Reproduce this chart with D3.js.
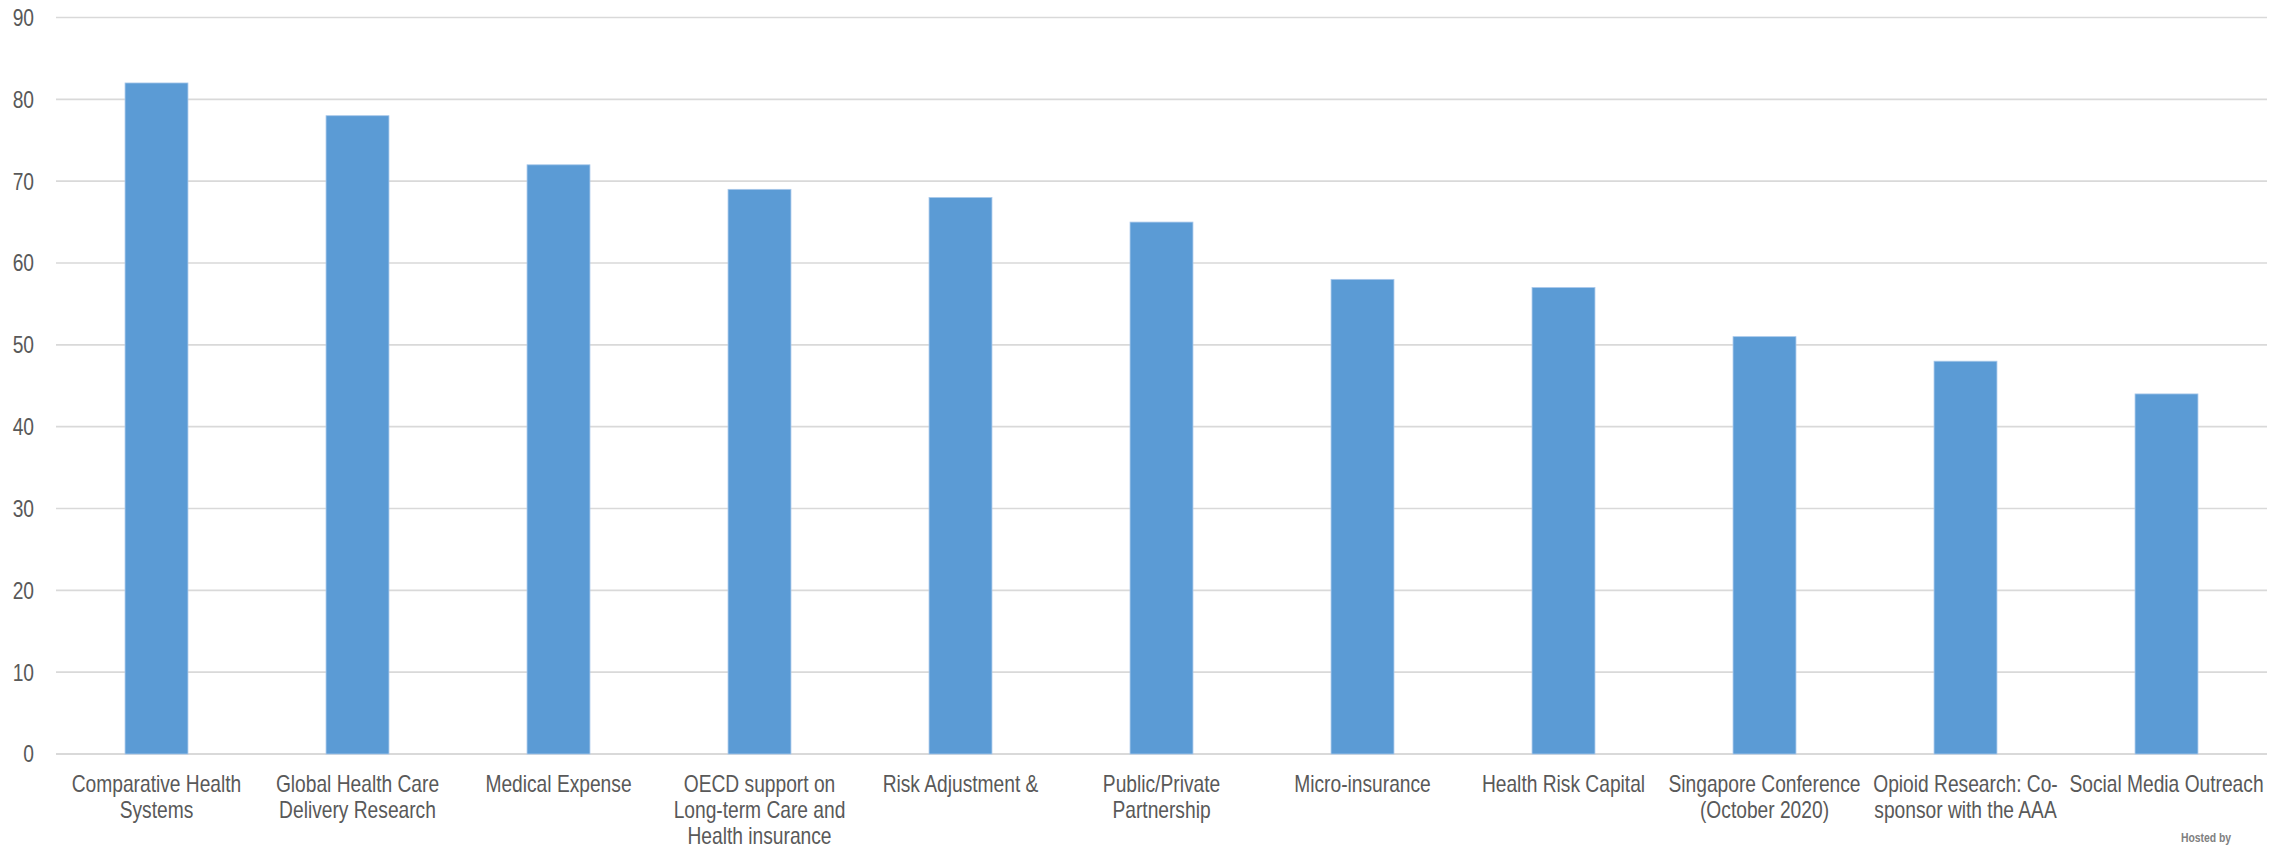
<!DOCTYPE html>
<html><head><meta charset="utf-8">
<script src="https://cdn.jsdelivr.net/npm/d3@7"></script>
<style>
html,body{margin:0;padding:0;background:#fff;}
svg{display:block;}
</style></head>
<body>
<script>
const categories = [
  "Comparative Health\nSystems",
  "Global Health Care\nDelivery Research",
  "Medical Expense",
  "OECD support on\nLong-term Care and\nHealth insurance",
  "Risk Adjustment &",
  "Public/Private\nPartnership",
  "Micro-insurance",
  "Health Risk Capital",
  "Singapore Conference\n(October 2020)",
  "Opioid Research: Co-\nsponsor with the AAA",
  "Social Media Outreach"
];
const values = [82, 78, 72, 69, 68, 65, 58, 57, 51, 48, 44];
const yTicks = [0, 10, 20, 30, 40, 50, 60, 70, 80, 90];

(function () {
const W = 2282, H = 850;
const mLeft = 56, mRight = 2267, mTop = 17.5, mBottom = 754;
const font = "'Liberation Sans',Arial,sans-serif";
const fs = 24;
const k = 0.80; // horizontal condensing to mimic Arial Narrow

const svg = d3.select("body").append("svg").attr("width", W).attr("height", H);

const x = d3.scaleBand().domain(d3.range(categories.length)).range([mLeft, mRight])
  .paddingInner(0.687).paddingOuter(0.3435);
const y = d3.scaleLinear().domain([0, 90]).range([mBottom, mTop]);

// gridlines
svg.append("g").selectAll("line").data(yTicks).join("line")
  .attr("x1", mLeft).attr("x2", mRight)
  .attr("y1", d => y(d)).attr("y2", d => y(d))
  .attr("stroke", "#d9d9d9").attr("stroke-width", d => d === 0 ? 2.2 : 1.6);

// y tick labels
svg.append("g").selectAll("text").data(yTicks).join("text")
  .attr("transform", d => `translate(34,${y(d)}) scale(${k},1)`)
  .attr("text-anchor", "end").attr("dy", "0.35em")
  .attr("font-family", font).attr("font-size", fs).attr("fill", "#595959")
  .text(d => d3.format("d")(d));

// bars
svg.append("g").selectAll("rect").data(values).join("rect")
  .attr("x", (d, i) => x(i)).attr("width", x.bandwidth())
  .attr("y", d => y(d)).attr("height", d => y(0) - y(d))
  .attr("fill", "#5b9bd5").attr("stroke", "#a8c8ea").attr("stroke-width", 0.8);

// x labels
const xl = svg.append("g");
categories.forEach((c, i) => {
  const cx = x(i) + x.bandwidth() / 2;
  const t = xl.append("text").attr("font-family", font).attr("font-size", fs)
    .attr("fill", "#595959").attr("text-anchor", "middle")
    .attr("transform", `translate(${cx},791.5) scale(${k},1)`);
  c.split("\n").forEach((line, j) => {
    t.append("tspan").attr("x", 0).attr("y", j * 26.2).text(line);
  });
});

svg.append("text").attr("transform", "translate(2206,842) scale(0.8,1)")
  .attr("text-anchor", "middle")
  .attr("font-family", "'Liberation Sans',Arial,sans-serif").attr("font-size", 13)
  .attr("font-weight", "bold").attr("fill", "#808080").text("Hosted by");
})();
</script>
</body></html>
